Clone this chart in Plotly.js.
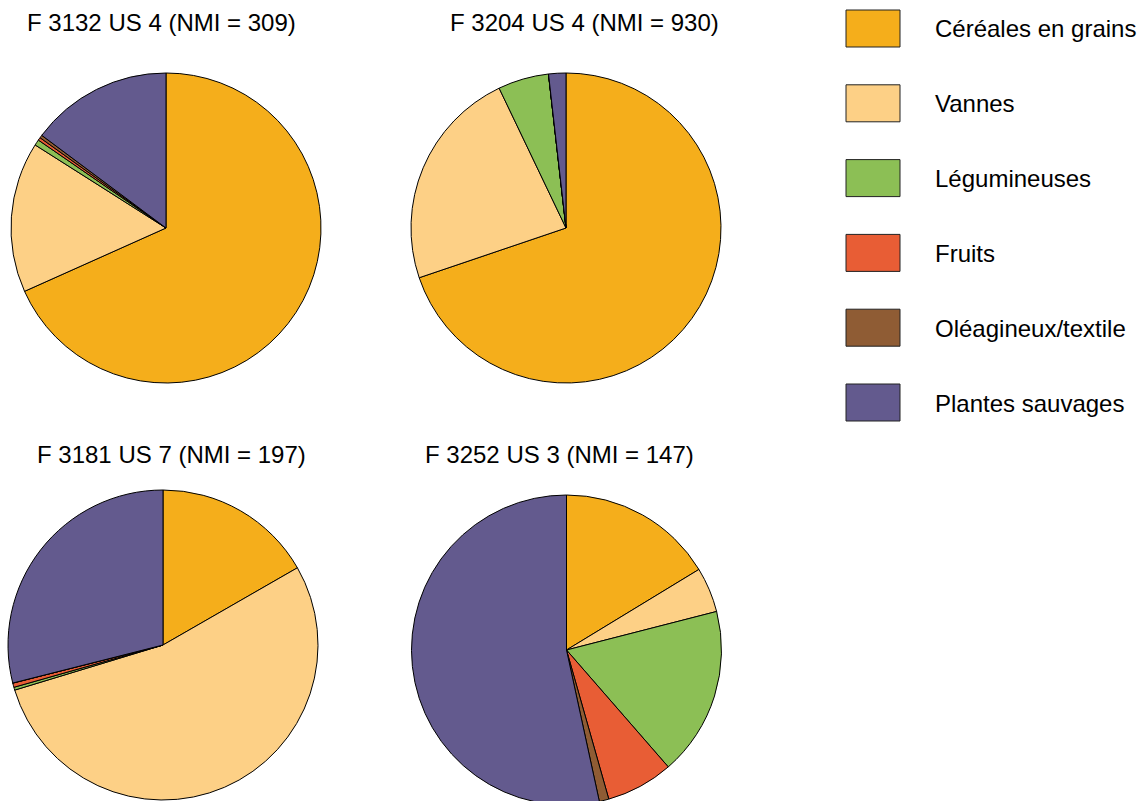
<!DOCTYPE html>
<html><head><meta charset="utf-8">
<script src="https://cdn.plot.ly/plotly-3.0.1.min.js"></script>
<style>html,body{margin:0;padding:0;overflow:hidden;background:#fff}</style>
</head><body><div id="chart"></div>
<script>
const categories = ["Céréales en grains","Vannes","Légumineuses","Fruits","Oléagineux/textile","Plantes sauvages"];
const colors = ["#F5AE1B","#FDD086","#8CBF55","#E85D35","#8F5C34","#635A8E"];
const titles = ["F 3132 US 4 (NMI = 309)","F 3204 US 4 (NMI = 930)","F 3181 US 7 (NMI = 197)","F 3252 US 3 (NMI = 147)"];
const f3132 = [68.3, 15.7, 0.6, 0.3, 0.3, 14.8];
const f3204 = [69.8, 23.1, 5.3, 0, 0, 1.8];
const f3181 = [16.7, 53.6, 0.3, 0.45, 0, 28.95];
const f3252 = [16.3, 4.7, 17.6, 7.0, 1.0, 53.4];
const seriesList = [f3132, f3204, f3181, f3252];

const W = 1142, H = 806;
// pie boxes in pixels: [x0, x1, ytop, ybottom]
const boxes = [[11,321,73,383],[411,721,73,383],[8,318,490,800],[411,722,495,805]];
const titlePos = [[161,22],[584,22],[171,455],[559,455]];
const fx = p => p / W, fy = p => (H - p) / H;

const data = seriesList.map((vals, i) => ({
  type: 'pie', values: vals, labels: categories, sort: false, direction: 'clockwise', rotation: 0,
  marker: {colors: colors, line: {color: '#000', width: 1}},
  textinfo: 'none', hoverinfo: 'label+value', showlegend: false,
  domain: {x: [fx(boxes[i][0]), fx(boxes[i][1])], y: [fy(boxes[i][3]), fy(boxes[i][2])]}
}));

const shapes = [], annotations = [];
titles.forEach((t, i) => annotations.push({
  text: t, x: fx(titlePos[i][0]), y: fy(titlePos[i][1]), xref: 'paper', yref: 'paper',
  xanchor: 'center', yanchor: 'middle', showarrow: false,
  font: {family: 'Liberation Sans, Arial, sans-serif', size: 24, color: '#000'}
}));
categories.forEach((c, i) => {
  const yt = 10 + i * 74.8;
  shapes.push({type: 'rect', xref: 'paper', yref: 'paper', x0: fx(846), x1: fx(900), y0: fy(yt + 37), y1: fy(yt),
    fillcolor: colors[i], line: {color: '#222', width: 1}});
  annotations.push({text: c, x: fx(933), y: fy(yt + 19), xref: 'paper', yref: 'paper', xanchor: 'left', yanchor: 'middle',
    showarrow: false, font: {family: 'Liberation Sans, Arial, sans-serif', size: 24, color: '#000'}});
});

Plotly.newPlot('chart', data, {
  width: W, height: H, margin: {l: 0, r: 0, t: 0, b: 0},
  paper_bgcolor: '#fff', plot_bgcolor: '#fff', shapes: shapes, annotations: annotations
}, {displayModeBar: false, staticPlot: true});
</script></body></html>
